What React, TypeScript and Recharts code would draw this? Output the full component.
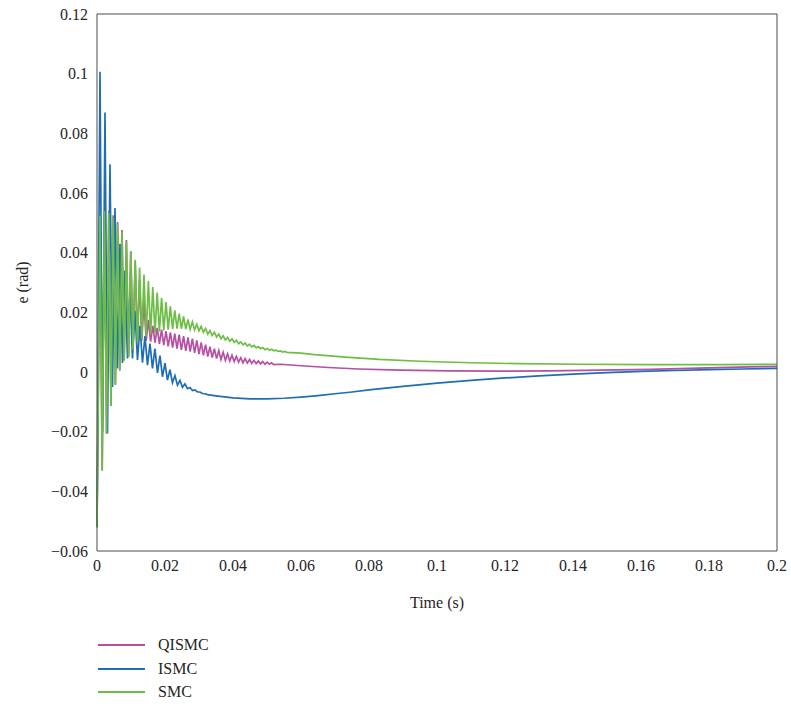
import { Line, LineChart, XAxis, YAxis } from "recharts";

const xTicks = [0, 0.02, 0.04, 0.06, 0.08, 0.1, 0.12, 0.14, 0.16, 0.18, 0.2];
const yTicks = [-0.06, -0.04, -0.02, 0, 0.02, 0.04, 0.06, 0.08, 0.1, 0.12];

// every controller starts from the same initial tracking error
const initialError = -0.052;
const firstPeakTime = 0.00088;
// half period of the chattering (peak -> trough)
const smcHalfPeriod = 0.000647;
const ismcHalfPeriod = 0.000735;

// QISMC chattering extremes, then the smooth settling part
const qismcPeaks = [
  0.052, 0.054, 0.054, 0.0525, 0.0503, 0.0476, 0.0442, 0.0405, 0.037, 0.031,
  0.024, 0.0175, 0.0155, 0.0148, 0.0142, 0.0137, 0.0133, 0.0129, 0.0125, 0.012,
  0.0116, 0.0112, 0.0106, 0.0099, 0.0092, 0.0085, 0.0078, 0.0072, 0.0066, 0.0061,
  0.0056, 0.0052, 0.0048, 0.0045, 0.0042, 0.0039, 0.0037, 0.0035, 0.0033, 0.0031,
];
const qismcTroughs = [
  -0.033, -0.0207, -0.0113, -0.0043, 0.0005, 0.0039, 0.005, 0.0075, 0.0098, 0.0105,
  0.0105, 0.0102, 0.0098, 0.0094, 0.009, 0.0086, 0.0082, 0.0078, 0.0074, 0.0071,
  0.0068, 0.0064, 0.006, 0.0056, 0.0052, 0.0048, 0.0045, 0.0042, 0.0039, 0.0037,
  0.0035, 0.0033, 0.0031, 0.003, 0.0029, 0.0028, 0.0027, 0.0026, 0.0026, 0.0025,
];
const qismcTailTimes = [0.054, 0.06, 0.068, 0.077, 0.089, 0.104, 0.118, 0.133, 0.148, 0.163, 0.177, 0.192, 0.2];
const qismcTailValues = [0.0026, 0.0021, 0.0015, 0.001, 0.0006, 0.0004, 0.0003, 0.0004, 0.0006, 0.0009, 0.0013, 0.0017, 0.0019];

// ISMC
const ismcPeaks = [
  0.1006, 0.087, 0.0696, 0.055, 0.043, 0.034, 0.027, 0.0205, 0.0155, 0.012,
  0.0095, 0.0078, 0.0055, 0.003, 0.0008, -0.0012, -0.0028, -0.004, -0.0052, -0.006,
  -0.0067, -0.0073,
];
const ismcTroughs = [
  -0.02, -0.0205, -0.005, 0.0012, 0.003, 0.0045, 0.0045, 0.004, 0.0031, 0.0023,
  0.0012, -0.0003, -0.0016, -0.0027, -0.0036, -0.0044, -0.0051, -0.0056, -0.0062, -0.0067,
  -0.0072, -0.0076,
];
const ismcTailTimes = [
  0.035, 0.04, 0.045, 0.05, 0.055, 0.06, 0.065, 0.07, 0.075, 0.08, 0.09,
  0.1, 0.11, 0.12, 0.13, 0.14, 0.15, 0.16, 0.17, 0.18, 0.19, 0.2,
];
const ismcTailValues = [
  -0.008, -0.0087, -0.009, -0.009, -0.0088, -0.0084, -0.0079, -0.0073, -0.0067, -0.006, -0.0048,
  -0.0037, -0.0028, -0.002, -0.0013, -0.0007, -0.0002, 0.0002, 0.0005, 0.0008, 0.001, 0.0012,
];

// SMC
const smcPeaks = [
  0.0523, 0.054, 0.0535, 0.0518, 0.0495, 0.0468, 0.0436, 0.0404, 0.0376, 0.035,
  0.0327, 0.0305, 0.0285, 0.0266, 0.0249, 0.0234, 0.022, 0.0207, 0.0196, 0.0186,
  0.0176, 0.0168, 0.016, 0.0153, 0.0146, 0.0139, 0.0133, 0.0127, 0.0121, 0.0116,
  0.0111, 0.0106, 0.0101, 0.0097, 0.0093, 0.0089, 0.0085, 0.0082, 0.0079, 0.0076,
  0.0073, 0.0071, 0.0069,
];
const smcTroughs = [
  -0.033, -0.0207, -0.0113, -0.0043, 0.0005, 0.0039, 0.005, 0.0075, 0.0098, 0.011,
  0.012, 0.0126, 0.0131, 0.0135, 0.0139, 0.0142, 0.0144, 0.0145, 0.0145, 0.0144,
  0.0143, 0.0141, 0.0138, 0.0133, 0.0127, 0.0122, 0.0117, 0.0112, 0.0107, 0.0103,
  0.0099, 0.0095, 0.0091, 0.0087, 0.0084, 0.0081, 0.0078, 0.0075, 0.0073, 0.0071,
  0.0069, 0.0067, 0.0066,
];
const smcTailTimes = [0.06, 0.064, 0.073, 0.083, 0.095, 0.11, 0.124, 0.142, 0.163, 0.183, 0.2];
const smcTailValues = [0.0063, 0.0058, 0.005, 0.0042, 0.0036, 0.0031, 0.0028, 0.0026, 0.0025, 0.0025, 0.0026];

type Point = { t: number; v: number };

function buildSeries(
  peaks: number[],
  troughs: number[],
  halfPeriod: number,
  tailTimes: number[],
  tailValues: number[],
): Point[] {
  const points: Point[] = [{ t: 0, v: initialError }];
  peaks.forEach((peak, i) => {
    points.push({ t: firstPeakTime + 2 * i * halfPeriod, v: peak });
    if (troughs[i] !== undefined) {
      points.push({ t: firstPeakTime + (2 * i + 1) * halfPeriod, v: troughs[i] });
    }
  });
  tailTimes.forEach((t, i) => points.push({ t, v: tailValues[i] }));
  return points;
}

const series = [
  {
    name: "QISMC",
    color: "#b74fa2",
    data: buildSeries(qismcPeaks, qismcTroughs, smcHalfPeriod, qismcTailTimes, qismcTailValues),
  },
  {
    name: "ISMC",
    color: "#1f6db5",
    data: buildSeries(ismcPeaks, ismcTroughs, ismcHalfPeriod, ismcTailTimes, ismcTailValues),
  },
  {
    name: "SMC",
    color: "#6dbe45",
    data: buildSeries(smcPeaks, smcTroughs, smcHalfPeriod, smcTailTimes, smcTailValues),
  },
];

const FONT = "'Liberation Serif', 'Times New Roman', serif";
const INK = "#262626";
const AXIS = "#4a4a4a";

const formatTick = (value: number) => String(value).replace("-", "\u2212");

const tickStyle = { fill: INK, fontSize: 16, fontFamily: FONT };

export default function App() {
  return (
    <div
      style={{
        position: "absolute",
        left: 0,
        top: 0,
        width: 791,
        height: 711,
        background: "#fff",
        fontFamily: FONT,
      }}
    >
      <LineChart width={791} height={711} margin={{ top: 14, right: 14, left: 0, bottom: 98 }}>
        <XAxis
          dataKey="t"
          type="number"
          domain={[0, 0.2]}
          ticks={xTicks}
          tickFormatter={formatTick}
          tickSize={0}
          tickMargin={9}
          tickLine={false}
          axisLine={{ stroke: AXIS }}
          tick={tickStyle}
          height={62}
          label={{ value: "Time (s)", position: "insideBottom", offset: 5, fill: INK, fontSize: 16, fontFamily: FONT }}
        />
        <YAxis
          type="number"
          domain={[-0.06, 0.12]}
          ticks={yTicks}
          tickFormatter={formatTick}
          tickSize={0}
          tickMargin={9}
          tickLine={false}
          axisLine={{ stroke: AXIS }}
          tick={tickStyle}
          width={97}
          label={{
            value: "e (rad)",
            angle: -90,
            position: "insideLeft",
            offset: 22,
            fill: INK,
            fontSize: 16,
            fontFamily: FONT,
            style: { textAnchor: "middle" },
          }}
        />
        {/* inward tick marks and the closing box */}
        <XAxis
          xAxisId="bottomIn"
          type="number"
          orientation="bottom"
          mirror
          domain={[0, 0.2]}
          ticks={xTicks}
          tick={false}
          axisLine={false}
          tickSize={7}
          tickLine={{ stroke: AXIS }}
        />
        <XAxis
          xAxisId="top"
          type="number"
          orientation="top"
          mirror
          domain={[0, 0.2]}
          ticks={xTicks}
          tick={false}
          axisLine={{ stroke: AXIS }}
          tickSize={7}
          tickLine={{ stroke: AXIS }}
        />
        <YAxis
          yAxisId="leftIn"
          type="number"
          mirror
          domain={[-0.06, 0.12]}
          ticks={yTicks}
          tick={false}
          axisLine={false}
          tickSize={7}
          tickLine={{ stroke: AXIS }}
        />
        <YAxis
          yAxisId="right"
          type="number"
          orientation="right"
          mirror
          domain={[-0.06, 0.12]}
          ticks={yTicks}
          tick={false}
          axisLine={{ stroke: AXIS }}
          tickSize={7}
          tickLine={{ stroke: AXIS }}
        />
        {series.map((s) => (
          <Line
            key={s.name}
            data={s.data}
            dataKey="v"
            type="linear"
            stroke={s.color}
            strokeWidth={1.7}
            dot={false}
            activeDot={false}
            isAnimationActive={false}
          />
        ))}
      </LineChart>

      {series.map((s, i) => (
        <div
          key={s.name}
          style={{
            position: "absolute",
            left: 98,
            top: 634 + i * 23.5,
            height: 22,
            display: "flex",
            alignItems: "center",
            fontSize: 16,
            color: INK,
          }}
        >
          <svg width={47} height={4} style={{ display: "block" }}>
            <line x1={0} x2={47} y1={2} y2={2} stroke={s.color} strokeWidth={2} />
          </svg>
          <span style={{ marginLeft: 13 }}>{s.name}</span>
        </div>
      ))}
    </div>
  );
}
